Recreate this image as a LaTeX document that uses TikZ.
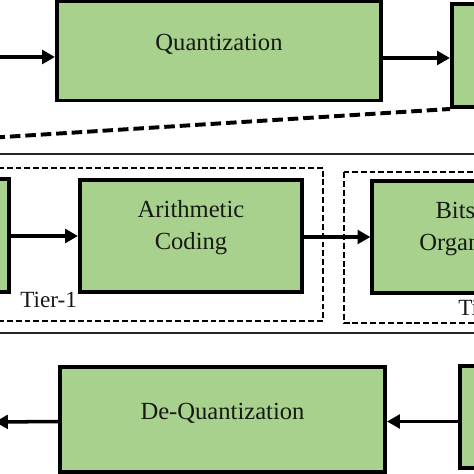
\documentclass[tikz,border=0pt]{standalone}
\usepackage{fontspec}
\setmainfont{Liberation Serif}
\usetikzlibrary{arrows.meta,positioning,calc}
\definecolor{stagegreen}{RGB}{169,209,142}
\definecolor{inkdark}{RGB}{22,26,20}
\tikzset{
  stagebox/.style={rectangle,draw=black,fill=stagegreen,line width=2.8pt,minimum width=8.1cm,minimum height=2.55cm,inner sep=0pt},
  codebox/.style={stagebox,minimum width=5.55cm,minimum height=2.8cm},
  stagetext/.style={align=center,text=inkdark,inner sep=0pt,font=\fontsize{17.5}{22.8}\selectfont},
  tiertext/.style={text=inkdark,inner sep=0pt,font=\fontsize{16.5}{20}\selectfont},
  arr/.style={-{Triangle[length=0.32cm,width=0.34cm]},line width=2.5pt,color=black},
  tierbox/.style={draw=black,line width=1.5pt,dash pattern=on 4.2pt off 2.1pt},
  zoomline/.style={draw=black,line width=2.8pt,dash pattern=on 7.5pt off 3.5pt},
  framebox/.style={draw=black!85,line width=1.6pt}
}

\begin{document}
\begin{tikzpicture}[x=0.025cm,y=-0.025cm]
  \clip (0,0) rectangle (474,474);
  % detail frame of the coding stage
  \coordinate (framenw) at (-268,154);
  \coordinate (framese) at (1000,333);
  \draw[framebox] (framenw) rectangle (framese);
  \draw[tierbox] (-230,168) rectangle (323,321);
  \draw[tierbox] (344,172) rectangle (820,323);
  % encoder row
  \node[stagebox,minimum height=2.475cm] (quant) at (219,51) {};
  \node[stagebox,minimum height=2.575cm] (rtop) at (614,55.5) {};
  \node[stagetext,anchor=base] (quanttxt) at ([yshift=0.025cm]quant.center) {Quantization};
  % tier-1 / tier-2 row
  \node[codebox,minimum height=2.825cm] (midleft) at (-102,235.5) {};
  \node[codebox] (arith) at (191,236) {};
  \node[codebox,right=1.66cm of arith,yshift=-0.025cm] (bits) {};
  \node[stagetext] (arithtxt) at ([yshift=0.2cm]arith.center) {Arithmetic\\Coding};
  \node[stagetext] (bitstxt) at ([yshift=0.2cm]bits.center) {Bitstream\\Organization};
  \node[tiertext,anchor=base west] (tier1) at (20,307) {Tier-1};
  \node[tiertext,anchor=base west] (tier2) at (458,315) {Tier-2};
  % decoder row
  \node[stagebox,minimum width=8.125cm,minimum height=2.625cm] (dequant) at (222.5,419.5) {};
  \node[stagebox] (rbot) at (622,417) {};
  \node[stagetext,anchor=base] (dqtxt) at (dequant.center) {De-Quantization};
  % connectors
  \coordinate (qin) at (-20,57);
  \coordinate (qlev) at (0,58);
  \coordinate (dqlev) at (0,421.5);
  \coordinate (dqout) at (-5,422);
  \draw[zoomline] (framenw) -- (rtop.south west);
  \draw[arr] (qin) -- (qin -| quant.west);
  \draw[arr] (quant.east |- qlev) -- (rtop.west |- qlev);
  \foreach \a/\b in {midleft/arith,arith/bits} \draw[arr] (\a.east |- \b) -- (\b.west);
  \draw[arr] (rbot.west |- dqlev) -- (dequant.east |- dqlev);
  \draw[arr] (dequant.west |- dqlev) -- (dqout);
\end{tikzpicture}
\end{document}
